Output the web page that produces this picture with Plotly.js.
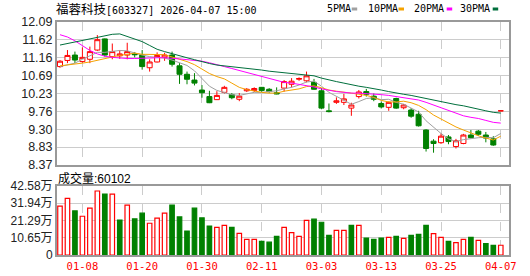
<!DOCTYPE html>
<html><head><meta charset="utf-8">
<script src="https://cdn.plot.ly/plotly-3.0.1.min.js"></script>
<style>html,body{margin:0;padding:0;background:#fff;}#chart{width:530px;height:276px;}</style>
</head><body><div id="chart"></div>
<script>
// ---------------- data ----------------
const stockName = '福蓉科技';
const stockCode = '603327';
const stamp = '2026-04-07 15:00';

const dates = ['01-05','01-06','01-07','01-08','01-09','01-12','01-13','01-14','01-15','01-16',
  '01-19','01-20','01-21','01-22','01-23','01-26','01-27','01-28','01-29','01-30',
  '02-02','02-03','02-04','02-05','02-06','02-09','02-10','02-11','02-12','02-13',
  '02-24','02-25','02-26','02-27','03-02','03-03','03-04','03-05','03-06','03-09',
  '03-10','03-11','03-12','03-13','03-16','03-17','03-18','03-19','03-20','03-23',
  '03-24','03-25','03-26','03-27','03-30','03-31','04-01','04-02','04-03','04-07'];

const openP = [10.93,11.09,11.23,11.06,11.12,11.36,11.65,11.19,11.21,11.23,
  11.26,11.23,10.90,11.05,11.17,11.23,10.95,10.73,10.58,10.32,
  10.15,10.07,10.26,10.20,10.08,10.30,10.31,10.39,10.34,10.25,
  10.37,10.47,10.60,10.56,10.52,10.30,9.78,10.00,10.00,9.85,
  10.15,10.28,10.16,9.97,9.87,10.10,9.86,9.80,9.69,9.28,
  8.99,8.95,9.10,8.85,8.93,9.15,9.25,9.15,9.05,9.78];
const highP = [11.10,11.36,11.32,11.43,11.45,11.75,11.66,11.53,11.36,11.55,
  11.31,11.36,11.12,11.30,11.29,11.32,11.02,10.80,10.76,10.45,
  10.30,10.29,10.43,10.24,10.24,10.37,10.39,10.40,10.37,10.39,
  10.58,10.63,10.65,10.80,10.61,10.37,9.97,10.13,10.22,9.99,
  10.32,10.35,10.23,10.02,10.02,10.12,9.96,9.85,9.78,9.30,
  9.04,9.19,9.15,9.05,9.18,9.28,9.28,9.23,9.12,9.78];
const lowP = [10.90,11.02,11.02,11.03,11.02,11.34,11.19,11.12,11.13,11.12,
  11.17,10.85,10.80,11.04,11.08,10.93,10.48,10.47,10.44,10.12,
  9.98,10.06,10.23,10.08,10.03,10.27,10.27,10.27,10.25,10.21,
  10.28,10.39,10.56,10.52,10.33,9.82,9.74,9.96,9.93,9.65,
  10.10,10.15,10.03,9.84,9.78,9.83,9.82,9.60,9.37,8.72,
  8.69,8.92,8.91,8.80,8.91,9.06,9.13,8.96,8.87,9.78];
const closeP = [11.07,11.22,11.10,11.17,11.32,11.63,11.23,11.32,11.26,11.32,
  11.24,10.93,11.05,11.22,11.23,10.99,10.73,10.60,10.50,10.25,
  9.99,10.18,10.39,10.12,10.16,10.34,10.36,10.31,10.28,10.22,
  10.54,10.55,10.62,10.69,10.34,9.85,9.76,10.04,10.09,9.93,
  10.27,10.21,10.08,9.88,10.00,9.85,9.93,9.64,9.39,8.80,
  8.93,9.12,8.98,9.00,9.15,9.08,9.17,9.07,8.89,9.78];
const closeBeforeFirst = 10.95;

// volume, in 万手 (last day = 60102 手)
const volume = [30.1,34.9,27.2,23.9,28.9,39.5,37.6,37.6,21.6,30.8,
  22.3,25.8,19.6,22.7,25.8,30.8,23.5,14.8,28.9,22.9,
  17.9,17.1,18.3,17.1,13.4,9.6,9.6,8.4,7.9,11.5,
  17.1,13.8,11.5,21.4,22.1,20.2,12.1,15.2,15.2,18.3,
  18.3,10.5,9.6,10.5,10.9,11.5,10.3,12.1,12.7,18.3,
  13.2,10.9,8.4,7.6,9.6,10.9,9.0,7.1,5.9,6.0102];

const ma5 = [10.93,10.97,11.02,11.12,11.20,11.30,11.30,11.33,11.35,11.34,
  11.28,11.23,11.19,11.17,11.15,11.10,11.04,10.96,10.82,10.62,
  10.42,10.31,10.26,10.20,10.18,10.23,10.26,10.26,10.28,10.30,
  10.35,10.39,10.45,10.53,10.55,10.42,10.26,10.15,10.04,9.95,
  10.02,10.10,10.12,10.07,10.08,10.00,9.95,9.86,9.75,9.52,
  9.35,9.19,9.05,8.98,9.03,9.06,9.08,9.09,9.08,9.19];
const ma10 = [10.95,10.97,10.99,11.02,11.05,11.10,11.14,11.18,11.22,11.26,
  11.28,11.25,11.25,11.25,11.24,11.18,11.13,11.06,10.98,10.87,
  10.75,10.67,10.61,10.50,10.39,10.33,10.29,10.26,10.24,10.24,
  10.29,10.33,10.35,10.41,10.43,10.38,10.32,10.29,10.27,10.24,
  10.21,10.18,10.13,10.05,10.01,10.01,10.03,9.99,9.92,9.81,
  9.67,9.56,9.45,9.36,9.28,9.20,9.13,9.07,9.02,9.12];
const ma20 = [11.76,11.70,11.60,11.47,11.35,11.26,11.20,11.17,11.15,11.14,
  11.14,11.15,11.15,11.16,11.16,11.15,11.13,11.11,11.09,11.07,
  11.03,10.97,10.93,10.88,10.83,10.77,10.72,10.67,10.62,10.56,
  10.52,10.50,10.47,10.44,10.40,10.35,10.31,10.28,10.26,10.24,
  10.24,10.23,10.22,10.20,10.18,10.15,10.13,10.10,10.06,10.00,
  9.93,9.86,9.79,9.71,9.65,9.61,9.58,9.53,9.48,9.46];
const ma30 = [11.49,11.53,11.57,11.61,11.65,11.70,11.74,11.77,11.78,11.72,
  11.66,11.58,11.48,11.38,11.32,11.26,11.21,11.16,11.11,11.05,
  11.01,10.97,10.95,10.93,10.91,10.88,10.86,10.84,10.81,10.79,
  10.77,10.75,10.74,10.72,10.69,10.63,10.58,10.54,10.50,10.45,
  10.42,10.39,10.36,10.32,10.28,10.24,10.21,10.18,10.14,10.09,
  10.06,10.02,9.98,9.94,9.91,9.86,9.82,9.78,9.74,9.72];

const maNames = ['5PMA','10PMA','20PMA','30PMA'];
const dateTicks = ['01-08','01-20','01-30','02-11','03-03','03-13','03-25','04-07'];
const priceTickVals = [8.37,8.835,9.30,9.765,10.23,10.695,11.16,11.625,12.09];
const priceTickText = ['8.37','8.83','9.30','9.76','10.23','10.69','11.16','11.62','12.09'];
const volTickVals = [0,10.645,21.29,31.935,42.58];
const volTickText = ['0','10.65万','21.29万','31.94万','42.58万'];

// ---------------- styles ----------------
const RED = '#ff0000', GREEN = '#008000';
const maColors = ['#a0a0a0','#f5a200','#ff00ff','#006f3c'];
const L = 57, R = 509, T = 22, B = 255;
const px = x => (x - L) / (R - L);
const py = y => (B - y) / (B - T);

const up = closeP.map((c, i) => c >= (i === 0 ? closeBeforeFirst : closeP[i - 1]));

const traces = [
  {type:'candlestick', x:dates, open:openP, high:highP, low:lowP, close:closeP,
   xaxis:'x', yaxis:'y', whiskerwidth:0, hoverinfo:'skip',
   increasing:{line:{color:RED,width:1}, fillcolor:'#ffffff'},
   decreasing:{line:{color:GREEN,width:1}, fillcolor:GREEN}},
];
[ma5, ma10, ma20, ma30].forEach((m, k) => traces.push({
  type:'scatter', mode:'lines', x:dates, y:m, xaxis:'x', yaxis:'y', name:maNames[k],
  line:{color:maColors[k], width:1}, hoverinfo:'skip'}));
traces.push({type:'bar', x:dates, y:volume, xaxis:'x2', yaxis:'y2', width:0.6,
  marker:{color:up.map(u => u ? '#ffffff' : GREEN), line:{color:up.map(u => u ? RED : GREEN), width:1.2}},
  hoverinfo:'skip'});

const border = {showline:true, mirror:true, linecolor:'#999999', linewidth:2, zeroline:false, fixedrange:true};
const xr = [-0.4, 60.1];
const layout = {
  width:530, height:276, margin:{l:L, r:530 - R, t:T, b:276 - B, pad:0},
  paper_bgcolor:'#ffffff', plot_bgcolor:'#ffffff', showlegend:false,
  boxgap:0.33, boxgroupgap:0, dragmode:false,
  font:{family:'Liberation Sans, Arial, Noto Sans CJK SC', size:12, color:'#222'},
  xaxis:Object.assign({type:'category', anchor:'y', domain:[0,1], range:xr, tickvals:dateTicks,
    showticklabels:false, ticks:'', showgrid:true, gridcolor:'#cccccc', griddash:'dash', gridwidth:1,
    rangeslider:{visible:false}}, border),
  yaxis:Object.assign({anchor:'x', domain:[py(165),1], range:[8.37,12.09], tickvals:priceTickVals,
    ticktext:priceTickText, ticks:'', showgrid:true, gridcolor:'#cccccc', gridwidth:1,
    tickfont:{family:'Liberation Sans, Arial', size:12.5, color:'#222'}}, border),
  xaxis2:Object.assign({type:'category', anchor:'y2', domain:[0,1], range:xr, tickvals:dateTicks,
    ticktext:dateTicks, ticks:'', showgrid:true, gridcolor:'#cccccc', griddash:'dash', gridwidth:1,
    tickfont:{family:'DejaVu Sans Mono, monospace', size:10.5, color:RED}}, border),
  yaxis2:Object.assign({anchor:'x2', domain:[0,py(186)], range:[0,42.58], tickvals:volTickVals,
    ticktext:volTickText, ticks:'', showgrid:true, gridcolor:'#cccccc', gridwidth:1,
    tickfont:{family:'Liberation Sans, Arial, Noto Sans CJK SC', size:12, color:'#222'}}, border),
  annotations:[], shapes:[]
};

layout.annotations.push({xref:'paper', yref:'paper', x:px(55), y:py(8.5), xanchor:'left', yanchor:'middle',
  showarrow:false, borderpad:0,
  text:'<span style="font-family:Noto Sans CJK SC;font-size:12.5px">' + stockName + '</span>[' + stockCode + '] ' + stamp,
  font:{family:'DejaVu Sans Mono, monospace', size:10, color:'#000'}});

const legX = [325.7, 367, 412.7, 459.3];
const dashX = [351.7, 398.5, 446.7, 492.7];
maNames.forEach((n, k) => {
  layout.annotations.push({xref:'paper', yref:'paper', x:px(legX[k]), y:py(9), xanchor:'left', yanchor:'middle',
    showarrow:false, borderpad:0, text:n, font:{family:'DejaVu Sans Mono, monospace', size:10, color:'#000'}});
  layout.shapes.push({type:'rect', xref:'paper', yref:'paper', x0:px(dashX[k]), x1:px(dashX[k] + 5.5),
    y0:py(10.5), y1:py(7.5), fillcolor:maColors[k], line:{width:0}});
});

layout.annotations.push({xref:'paper', yref:'paper', x:px(57), y:py(177), xanchor:'left', yanchor:'middle',
  showarrow:false, borderpad:0,
  text:'<span style="font-family:Noto Sans CJK SC">成交量</span>:' + Math.round(volume[volume.length - 1] * 10000),
  font:{family:'Liberation Sans, Arial', size:12, color:'#000'}});

Plotly.newPlot('chart', traces, layout, {displayModeBar:false, staticPlot:true});
</script>
</body></html>
